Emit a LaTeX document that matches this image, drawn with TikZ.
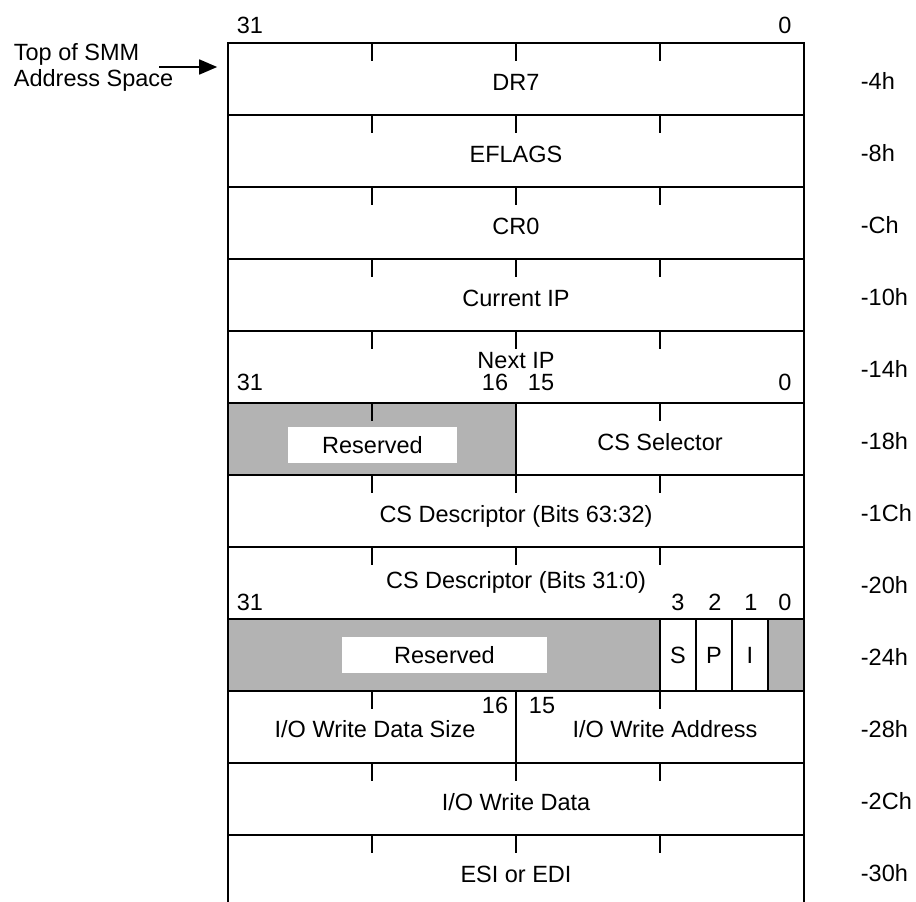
\documentclass[tikz,border=0pt]{standalone}
\usepackage{fontspec}
\setmainfont{Liberation Sans}
\usepackage{tikz}
\usetikzlibrary{arrows.meta,positioning}
\definecolor{resgray}{HTML}{B3B3B3}

\begin{document}
\begin{tikzpicture}[x=1pt, y=-1pt, line width=1.8pt,
  every node/.style={font=\fontsize{23.5}{26}\selectfont, inner sep=0pt},
  fld/.style={anchor=base},
  offs/.style={anchor=base west},
  resbox/.style={fill=white, minimum height=36pt},
  smmarrow/.style={-{Triangle[length=18pt,width=15pt]}}]
  \useasboundingbox (0,0) rectangle (916,902);

  % Reserved fields
  \fill[resgray] (228,403) rectangle (516,475);
  \fill[resgray] (228,619) rectangle (660,691);
  \fill[resgray] (768,619) rectangle (804,691);

  % Outline and rows
  \draw (228,902) -- (228,43) -- (804,43) -- (804,902);
  \foreach \k in {1,...,11}
    \draw (228,43+72*\k) -- (804,43+72*\k);

  % Byte ticks
  \foreach \k in {0,...,7,9,10,11}
    \foreach \x in {372,516,660}
      \draw (\x,43+72*\k) -- ++(0,18);

  % Field dividers
  \draw (516,403) -- (516,475);
  \draw (516,691) -- (516,763);
  \foreach \x in {660,696,732,768}
    \draw (\x,619) -- (\x,691);

  % Top of SMM pointer
  \node[align=left, anchor=west] (smm) at (13,67) {Top of SMM\\Address Space};
  \draw[smmarrow] ([xshift=-15pt]smm.east) -- ++(58,0);

  % Bit numbers
  \node[fld] (hi31) at (250,33) {31};
  \node[fld] (hi0) at (785,33) {0};
  \node[fld] (sel31) at (250,390) {31};
  \node[fld] (sel16) at (495,390) {16};
  \node[fld] (sel15) at (541,390) {15};
  \node[fld] (sel0) at (785,390) {0};
  \node[fld] (flg31) at (250,610) {31};
  \node[fld] (flg3) at (678,610) {3};
  \node[fld] (flg2) at (715,610) {2};
  \node[fld] (flg1) at (751,610) {1};
  \node[fld] (flg0) at (785,610) {0};
  \node[fld] (io16) at (495,713) {16};
  \node[fld] (io15) at (542,713) {15};

  % Fields
  \node[fld] (dr7) at (516,90) {DR7};
  \node[fld] (eflags) at (516,162) {EFLAGS};
  \node[fld] (cr0) at (516,234) {CR0};
  \node[fld] (curip) at (516,306) {Current IP};
  \node[fld] (nextip) at (516,368) {Next IP};
  \node[resbox, minimum width=169pt] (res1) at (372.5,445) {Reserved};
  \node[fld] (cssel) at (660,450) {CS Selector};
  \node[fld] (cshi) at (516,522) {CS Descriptor (Bits 63:32)};
  \node[fld] (cslo) at (516,588) {CS Descriptor (Bits 31:0)};
  \node[resbox, minimum width=205pt] (res2) at (444.5,655) {Reserved};
  \node (bitS) at (678,655) {S};
  \node (bitP) at (714,655) {P};
  \node (bitI) at (750,655) {I};
  \node[fld] (iosize) at (375,737) {I/O Write Data Size};
  \node[fld] (ioaddr) at (665,737) {I/O Write Address};
  \node[fld] (iodata) at (516,810) {I/O Write Data};
  \node[fld] (esiedi) at (516,882) {ESI or EDI};

  % Offsets
  \foreach \lbl [count=\k from 0] in {-4h,-8h,-Ch,-10h,-14h,-18h,-1Ch,-20h,-24h,-28h,-2Ch,-30h}
    \node[offs] (off\k) at (860,89+72*\k) {\lbl};
\end{tikzpicture}
\end{document}
